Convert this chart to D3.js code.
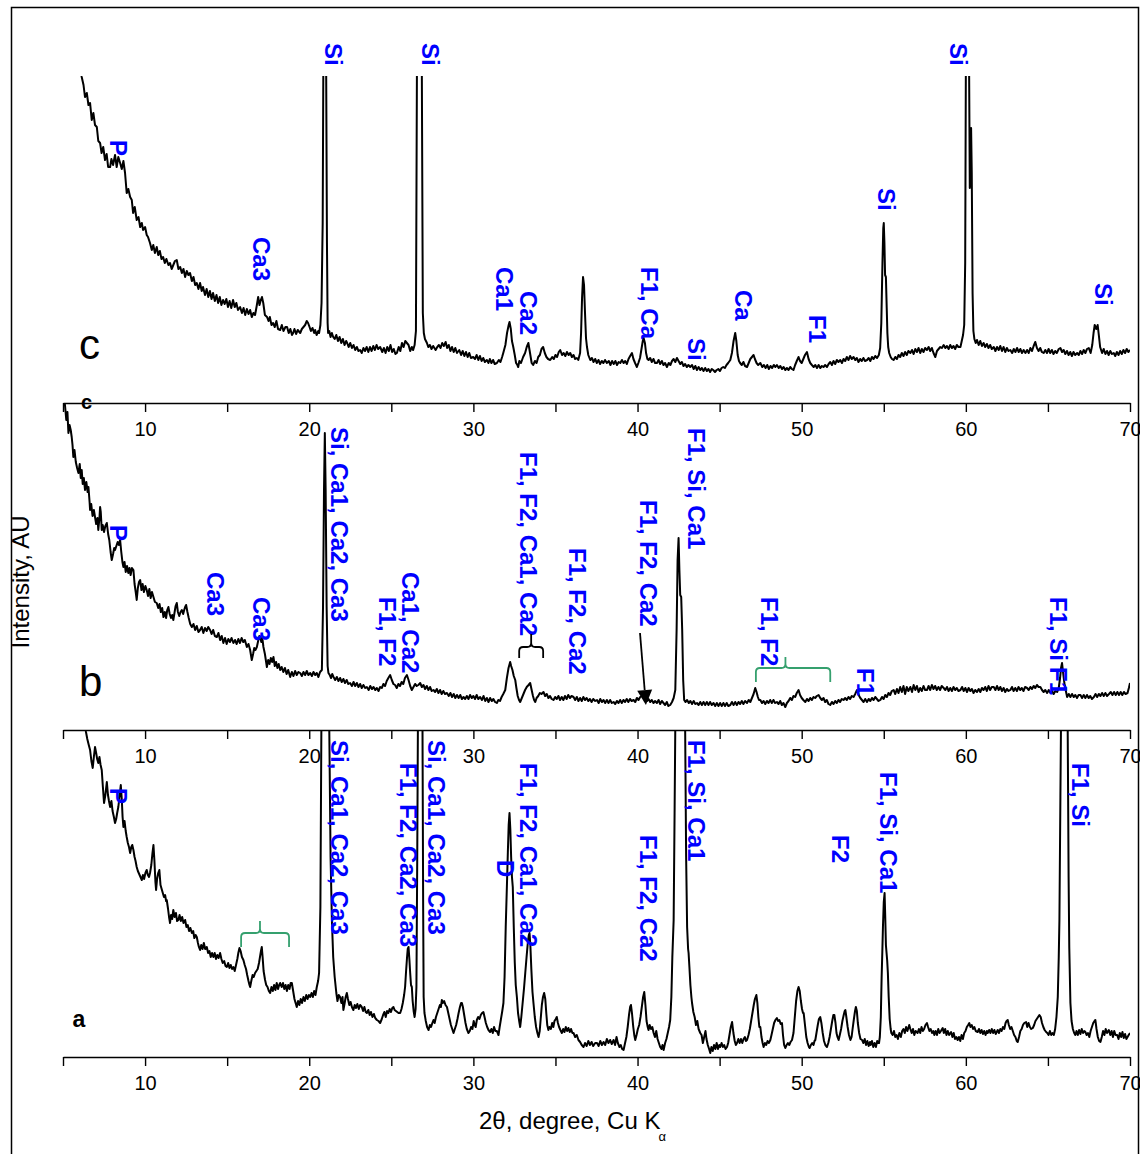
<!DOCTYPE html>
<html>
<head>
<meta charset="utf-8">
<script src="https://cdn.jsdelivr.net/npm/d3@7"></script>
<style>
  body { margin: 0; background: #fff; }
  svg { display: block; }
  text { font-family: "Liberation Sans", Arial, sans-serif; }
</style>
</head>
<body>
<svg id="chart" width="1140" height="1154"></svg>
<script>
// ---- x axis ticks (2-theta, degrees) ----
const tickValues = [5, 10, 15, 20, 25, 30, 35, 40, 45, 50, 55, 60, 65, 70];

// ---- diffraction patterns: [2theta, intensity (AU)] ----
const patternC = [
[5.0,420],[5.5,380],[5.9,345],[6.1,330],[6.14,326],[6.25,318],[6.34,306],[6.45,310],[6.55,298],[6.65,300],[6.75,283],[6.85,290],[6.95,278],[7.06,276],[7.15,262],[7.26,260],[7.35,250],[7.45,256],[7.56,243],[7.66,249],[7.75,236],[7.87,236],[7.95,244],[8.05,238],[8.17,248],[8.27,236],[8.37,246],[8.48,240],[8.58,234],[8.68,242],[8.78,230],[8.88,210],[8.98,214],[9.09,206],[9.19,203],[9.27,190],[9.37,196],[9.49,183],[9.6,186],[9.7,176],[9.8,180],[9.88,173],[10.0,176],[10.1,168],[10.18,166],[10.3,160],[10.41,153],[10.5,158],[10.6,150],[10.71,156],[10.8,148],[10.9,152],[11.0,144],[11.1,146],[11.2,140],[11.3,144],[11.42,138],[11.52,140],[11.62,134],[11.72,138],[11.82,142],[11.93,143],[12.03,134],[12.14,136],[12.24,130],[12.34,134],[12.44,126],[12.54,132],[12.64,128],[12.74,130],[12.85,122],[12.95,126],[13.05,118],[13.15,120],[13.25,114],[13.35,120],[13.45,112],[13.53,116],[13.65,108],[13.75,114],[13.85,106],[13.95,112],[14.05,104],[14.14,110],[14.25,102],[14.35,108],[14.45,100],[14.55,106],[14.65,98],[14.75,103],[14.85,99],[14.95,104],[15.05,96],[15.15,102],[15.25,95],[15.36,103],[15.46,96],[15.56,100],[15.66,93],[15.79,96],[15.9,90],[16.0,95],[16.1,88],[16.2,94],[16.3,89],[16.4,93],[16.5,86],[16.6,90],[16.7,88],[16.8,97],[16.89,106],[16.97,98],[17.05,103],[17.12,106],[17.2,100],[17.3,88],[17.43,86],[17.52,82],[17.6,86],[17.7,78],[17.8,80],[17.9,76],[18.0,82],[18.1,74],[18.23,73],[18.33,78],[18.43,72],[18.55,76],[18.65,76],[18.75,70],[18.85,74],[18.95,68],[19.02,70],[19.1,74],[19.2,69],[19.3,73],[19.45,70],[19.55,74],[19.65,76],[19.75,78],[19.85,82],[19.93,80],[20.02,76],[20.1,72],[20.2,75],[20.3,70],[20.36,73],[20.45,68],[20.55,72],[20.6,70],[20.68,78],[20.75,100],[20.82,180],[20.86,340],[20.9,700],[20.98,700],[21.03,340],[21.08,160],[21.12,80],[21.15,70],[21.22,72],[21.3,66],[21.38,70],[21.46,66],[21.55,64],[21.65,68],[21.75,62],[21.85,66],[21.95,60],[22.05,64],[22.15,58],[22.25,62],[22.31,60],[22.4,56],[22.5,60],[22.6,55],[22.7,58],[22.8,53],[22.9,56],[23.0,52],[23.1,53],[23.2,50],[23.3,55],[23.4,52],[23.5,56],[23.6,51],[23.7,56],[23.8,52],[23.9,57],[24.0,53],[24.1,58],[24.2,54],[24.32,56],[24.45,51],[24.55,55],[24.65,50],[24.75,56],[24.85,52],[24.95,58],[25.05,51],[25.15,54],[25.25,49],[25.34,50],[25.45,56],[25.55,52],[25.65,60],[25.75,56],[25.85,62],[25.95,60],[26.05,58],[26.15,52],[26.25,56],[26.33,53],[26.42,58],[26.5,72],[26.56,330],[26.62,900],[26.7,1000],[26.8,900],[26.86,330],[26.92,90],[26.98,70],[27.05,64],[27.17,60],[27.25,56],[27.35,58],[27.45,54],[27.55,57],[27.7,53],[27.8,56],[27.9,58],[28.0,55],[28.1,60],[28.2,57],[28.31,61],[28.4,55],[28.5,58],[28.6,52],[28.7,56],[28.8,51],[28.9,55],[29.0,50],[29.14,53],[29.25,48],[29.35,52],[29.45,47],[29.55,51],[29.65,46],[29.75,50],[29.85,45],[29.99,46],[30.1,44],[30.2,48],[30.3,43],[30.4,47],[30.5,42],[30.6,45],[30.7,41],[30.82,43],[30.92,40],[31.0,44],[31.1,40],[31.2,43],[31.3,39],[31.43,40],[31.55,43],[31.65,41],[31.75,46],[31.82,50],[31.95,58],[32.05,70],[32.15,78],[32.2,81],[32.28,74],[32.35,62],[32.43,56],[32.52,48],[32.6,40],[32.68,38],[32.73,36],[32.8,42],[32.9,40],[33.03,46],[33.15,50],[33.25,56],[33.35,60],[33.45,50],[33.55,40],[33.64,38],[33.75,42],[33.85,40],[33.95,46],[34.05,48],[34.15,54],[34.25,56],[34.35,50],[34.45,46],[34.55,44],[34.68,43],[34.8,46],[34.9,44],[35.0,48],[35.1,46],[35.2,51],[35.29,53],[35.4,48],[35.5,50],[35.6,47],[35.7,51],[35.8,48],[35.9,50],[36.0,46],[36.1,48],[36.2,44],[36.3,45],[36.39,43],[36.5,50],[36.56,70],[36.62,105],[36.68,126],[36.74,118],[36.8,90],[36.86,65],[36.92,56],[37.0,48],[37.12,43],[37.22,45],[37.32,41],[37.42,44],[37.52,40],[37.62,43],[37.72,39],[37.82,42],[37.92,40],[38.02,43],[38.13,40],[38.25,42],[38.35,38],[38.45,42],[38.55,39],[38.65,42],[38.75,38],[38.85,41],[38.95,40],[39.05,43],[39.15,40],[39.25,42],[39.35,39],[39.45,44],[39.55,47],[39.66,50],[39.75,44],[39.85,40],[39.96,36],[40.05,40],[40.15,45],[40.25,55],[40.32,62],[40.37,65],[40.45,60],[40.52,50],[40.6,44],[40.67,43],[40.77,45],[40.87,41],[40.97,44],[41.07,40],[41.18,40],[41.28,43],[41.38,39],[41.48,42],[41.58,38],[41.68,40],[41.79,36],[41.9,40],[42.0,38],[42.1,42],[42.2,44],[42.3,41],[42.4,45],[42.5,42],[42.6,39],[42.7,41],[42.8,37],[42.9,39],[43.0,36],[43.1,38],[43.21,36],[43.32,38],[43.42,34],[43.52,37],[43.62,33],[43.72,36],[43.82,33],[43.92,35],[44.02,32],[44.12,35],[44.22,32],[44.32,34],[44.42,31],[44.52,34],[44.61,33],[44.72,31],[44.82,33],[44.92,34],[45.02,32],[45.12,35],[45.22,36],[45.32,35],[45.42,38],[45.52,40],[45.65,43],[45.75,50],[45.85,62],[45.95,70],[46.02,62],[46.1,48],[46.18,42],[46.25,40],[46.35,38],[46.45,41],[46.55,37],[46.67,36],[46.77,40],[46.87,44],[46.97,46],[47.07,48],[47.15,44],[47.25,40],[47.35,38],[47.48,40],[47.6,36],[47.7,38],[47.8,35],[47.9,38],[48.0,34],[48.1,37],[48.2,35],[48.3,38],[48.4,36],[48.49,38],[48.6,35],[48.7,37],[48.8,34],[48.9,36],[49.0,33],[49.1,35],[49.2,33],[49.3,36],[49.4,34],[49.5,33],[49.6,38],[49.7,42],[49.81,46],[49.9,42],[50.0,40],[50.1,44],[50.2,48],[50.32,51],[50.42,44],[50.52,40],[50.62,38],[50.73,36],[50.83,38],[50.93,35],[51.03,38],[51.13,35],[51.23,37],[51.33,36],[51.43,38],[51.54,36],[51.64,39],[51.74,41],[51.84,38],[51.94,42],[52.04,39],[52.14,43],[52.24,41],[52.35,43],[52.45,40],[52.55,44],[52.65,42],[52.75,46],[52.85,43],[52.95,47],[53.05,44],[53.16,46],[53.26,43],[53.36,45],[53.46,41],[53.56,44],[53.66,42],[53.76,45],[53.86,42],[53.98,43],[54.08,45],[54.18,42],[54.28,46],[54.38,44],[54.48,47],[54.59,45],[54.7,48],[54.78,55],[54.85,80],[54.92,140],[54.97,175],[55.0,180],[55.04,160],[55.08,128],[55.13,126],[55.18,95],[55.22,70],[55.27,56],[55.33,50],[55.42,46],[55.5,44],[55.6,43],[55.7,46],[55.8,44],[55.9,48],[56.0,46],[56.1,50],[56.2,47],[56.3,51],[56.4,48],[56.5,52],[56.62,50],[56.72,53],[56.82,49],[56.92,54],[57.02,51],[57.12,55],[57.22,50],[57.32,54],[57.42,51],[57.52,55],[57.63,53],[57.73,56],[57.83,52],[57.93,55],[58.03,50],[58.14,46],[58.24,52],[58.34,54],[58.44,56],[58.54,55],[58.65,58],[58.75,55],[58.85,57],[58.95,54],[59.05,58],[59.15,55],[59.25,57],[59.35,54],[59.45,58],[59.55,56],[59.67,56],[59.75,62],[59.83,68],[59.9,78],[59.96,140],[60.0,330],[60.05,520],[60.15,520],[60.2,330],[60.24,215],[60.28,240],[60.32,275],[60.36,230],[60.41,110],[60.46,72],[60.52,64],[60.6,60],[60.68,63],[60.78,58],[60.88,62],[60.98,57],[61.08,60],[61.18,56],[61.28,59],[61.38,55],[61.48,58],[61.58,54],[61.7,56],[61.8,52],[61.9,56],[62.0,53],[62.1,57],[62.2,52],[62.3,56],[62.4,51],[62.5,55],[62.6,52],[62.71,53],[62.82,50],[62.92,54],[63.02,51],[63.12,55],[63.22,51],[63.32,54],[63.42,50],[63.52,53],[63.63,50],[63.73,53],[63.83,50],[63.93,55],[64.03,52],[64.13,57],[64.23,61],[64.33,55],[64.43,52],[64.53,55],[64.63,51],[64.74,50],[64.84,53],[64.94,50],[65.04,54],[65.14,50],[65.24,53],[65.34,49],[65.44,52],[65.54,50],[65.66,54],[65.76,55],[65.86,51],[65.96,53],[66.06,49],[66.16,52],[66.26,48],[66.36,51],[66.46,47],[66.56,51],[66.66,48],[66.78,50],[66.88,48],[66.98,52],[67.08,49],[67.18,53],[67.28,50],[67.38,54],[67.49,55],[67.6,50],[67.7,58],[67.78,70],[67.85,78],[67.95,74],[68.03,78],[68.1,68],[68.18,56],[68.3,50],[68.4,54],[68.5,49],[68.6,52],[68.7,48],[68.8,52],[68.9,49],[69.01,50],[69.1,47],[69.2,51],[69.3,48],[69.4,52],[69.5,49],[69.6,53],[69.7,50],[69.8,54],[69.9,51],[70.0,53]
];

const patternB = [
[5.0,345],[5.06,330],[5.12,325],[5.2,310],[5.27,318],[5.33,297],[5.4,305],[5.47,300],[5.53,293],[5.58,285],[5.63,273],[5.7,280],[5.78,268],[5.86,262],[5.94,257],[6.02,266],[6.08,252],[6.14,260],[6.2,246],[6.27,252],[6.34,240],[6.42,248],[6.5,238],[6.55,243],[6.62,228],[6.65,220],[6.72,226],[6.8,214],[6.88,220],[6.95,213],[7.02,206],[7.1,212],[7.15,200],[7.22,212],[7.26,223],[7.3,218],[7.36,200],[7.42,205],[7.5,198],[7.58,204],[7.67,207],[7.75,196],[7.82,190],[7.9,178],[7.97,170],[8.05,176],[8.12,182],[8.17,180],[8.25,184],[8.33,188],[8.4,185],[8.48,190],[8.55,178],[8.62,168],[8.68,163],[8.75,168],[8.82,158],[8.9,164],[8.98,157],[9.05,162],[9.12,155],[9.2,162],[9.29,160],[9.36,146],[9.43,138],[9.49,130],[9.56,142],[9.63,148],[9.7,150],[9.78,140],[9.85,146],[9.93,138],[10.02,144],[10.1,140],[10.18,134],[10.26,141],[10.34,132],[10.42,138],[10.51,133],[10.6,128],[10.71,127],[10.8,122],[10.88,126],[10.96,118],[11.04,122],[11.12,113],[11.2,118],[11.28,112],[11.35,120],[11.42,123],[11.5,116],[11.58,112],[11.65,115],[11.72,110],[11.8,118],[11.86,124],[11.93,127],[12.0,118],[12.08,114],[12.16,118],[12.24,120],[12.32,116],[12.4,121],[12.44,123],[12.5,125],[12.58,118],[12.66,112],[12.75,106],[12.85,103],[12.95,106],[13.05,100],[13.15,104],[13.25,98],[13.35,100],[13.45,103],[13.55,97],[13.65,102],[13.75,99],[13.85,103],[13.96,100],[14.05,96],[14.15,100],[14.25,94],[14.37,93],[14.47,97],[14.57,90],[14.67,94],[14.77,87],[14.87,92],[14.97,86],[15.07,91],[15.17,88],[15.27,92],[15.38,87],[15.48,90],[15.58,86],[15.68,91],[15.78,87],[15.88,92],[15.98,88],[16.08,90],[16.2,83],[16.3,86],[16.4,80],[16.5,70],[16.58,76],[16.65,82],[16.72,80],[16.81,83],[16.9,90],[16.96,94],[17.01,93],[17.08,88],[17.14,92],[17.21,83],[17.3,76],[17.42,63],[17.5,70],[17.58,66],[17.66,72],[17.74,68],[17.82,73],[17.9,64],[17.98,68],[18.06,62],[18.14,66],[18.23,60],[18.32,63],[18.42,58],[18.52,62],[18.62,56],[18.72,60],[18.84,53],[18.94,58],[19.04,54],[19.14,59],[19.24,55],[19.34,58],[19.45,57],[19.55,54],[19.65,58],[19.75,55],[19.85,59],[19.95,55],[20.06,57],[20.16,54],[20.26,58],[20.36,55],[20.46,57],[20.56,53],[20.66,58],[20.77,60],[20.84,123],[20.9,240],[20.95,297],[21.0,240],[21.06,123],[21.12,64],[21.17,57],[21.25,55],[21.33,52],[21.4,56],[21.48,53],[21.58,50],[21.68,53],[21.78,49],[21.88,52],[21.98,48],[22.08,51],[22.18,47],[22.28,50],[22.38,46],[22.49,47],[22.6,44],[22.7,48],[22.8,44],[22.9,47],[23.0,43],[23.1,46],[23.2,42],[23.3,45],[23.41,42],[23.51,43],[23.62,40],[23.72,44],[23.82,41],[23.92,43],[24.02,40],[24.12,42],[24.22,39],[24.32,43],[24.42,42],[24.52,46],[24.62,44],[24.72,49],[24.82,52],[24.93,55],[25.03,50],[25.13,46],[25.23,45],[25.33,42],[25.43,46],[25.53,44],[25.63,48],[25.73,46],[25.83,52],[25.95,55],[26.05,50],[26.15,44],[26.25,40],[26.35,43],[26.45,46],[26.55,44],[26.65,45],[26.76,47],[26.86,43],[26.96,45],[27.06,41],[27.16,44],[27.26,40],[27.36,43],[27.46,39],[27.57,40],[27.67,38],[27.77,41],[27.87,37],[27.97,40],[28.07,36],[28.17,39],[28.27,36],[28.39,37],[28.5,34],[28.6,37],[28.7,33],[28.8,36],[28.9,32],[29.0,35],[29.1,32],[29.2,35],[29.3,31],[29.4,33],[29.5,31],[29.6,34],[29.7,31],[29.8,35],[29.9,32],[30.0,34],[30.1,31],[30.2,35],[30.3,31],[30.41,33],[30.52,30],[30.62,34],[30.72,29],[30.82,32],[30.92,28],[31.02,32],[31.12,29],[31.22,31],[31.32,28],[31.43,27],[31.52,30],[31.62,29],[31.72,33],[31.82,36],[31.94,40],[32.04,52],[32.14,62],[32.24,68],[32.3,64],[32.38,60],[32.46,54],[32.55,50],[32.62,42],[32.7,34],[32.78,30],[32.85,28],[32.95,32],[33.05,36],[33.15,40],[33.25,43],[33.36,45],[33.46,47],[33.55,40],[33.63,34],[33.7,30],[33.77,28],[33.85,32],[33.95,34],[34.05,37],[34.15,36],[34.27,38],[34.37,34],[34.47,36],[34.57,32],[34.67,34],[34.77,31],[34.88,30],[34.98,33],[35.08,31],[35.18,34],[35.28,30],[35.38,33],[35.48,30],[35.58,34],[35.68,31],[35.78,35],[35.88,32],[35.98,34],[36.1,33],[36.2,30],[36.3,33],[36.4,29],[36.5,32],[36.6,29],[36.7,33],[36.8,30],[36.9,32],[37.0,29],[37.1,31],[37.2,28],[37.3,31],[37.42,29],[37.53,30],[37.63,27],[37.73,31],[37.83,28],[37.93,30],[38.03,27],[38.13,30],[38.23,27],[38.33,30],[38.43,27],[38.54,28],[38.64,26],[38.74,29],[38.84,27],[38.94,30],[39.04,27],[39.14,30],[39.24,28],[39.34,31],[39.44,28],[39.54,31],[39.64,29],[39.76,30],[39.86,28],[39.96,32],[40.06,30],[40.16,33],[40.26,34],[40.37,35],[40.47,32],[40.57,29],[40.67,31],[40.77,28],[40.87,30],[40.97,27],[41.07,29],[41.18,27],[41.28,30],[41.38,26],[41.48,29],[41.58,27],[41.68,25],[41.78,28],[41.88,24],[41.99,25],[42.1,28],[42.2,32],[42.3,40],[42.38,100],[42.44,170],[42.5,192],[42.55,160],[42.6,135],[42.66,133],[42.72,100],[42.78,50],[42.84,30],[42.92,28],[43.02,30],[43.12,27],[43.22,29],[43.32,26],[43.42,29],[43.52,26],[43.62,27],[43.72,25],[43.82,28],[43.92,25],[44.02,28],[44.12,25],[44.22,28],[44.32,25],[44.42,28],[44.52,25],[44.63,27],[44.73,24],[44.83,27],[44.93,24],[45.03,27],[45.13,24],[45.23,27],[45.33,24],[45.43,27],[45.53,24],[45.65,25],[45.75,28],[45.85,25],[45.95,28],[46.05,25],[46.15,28],[46.25,26],[46.35,29],[46.45,26],[46.55,29],[46.67,27],[46.77,30],[46.87,28],[46.97,32],[47.07,36],[47.17,42],[47.25,38],[47.33,33],[47.4,30],[47.48,30],[47.58,27],[47.68,29],[47.78,26],[47.88,29],[47.98,27],[48.08,30],[48.18,27],[48.28,30],[48.38,27],[48.49,28],[48.59,26],[48.69,29],[48.79,25],[48.89,27],[49.0,23],[49.1,27],[49.2,29],[49.3,32],[49.4,30],[49.5,34],[49.6,33],[49.7,37],[49.81,40],[49.9,35],[50.0,32],[50.1,30],[50.22,28],[50.32,31],[50.42,29],[50.52,32],[50.62,30],[50.72,33],[50.82,32],[50.92,34],[51.03,35],[51.13,32],[51.23,30],[51.33,32],[51.43,28],[51.53,30],[51.63,26],[51.74,25],[51.84,28],[51.94,26],[52.04,29],[52.14,27],[52.24,30],[52.34,28],[52.44,31],[52.55,30],[52.65,32],[52.75,30],[52.85,33],[52.95,31],[53.05,34],[53.16,33],[53.26,36],[53.37,40],[53.47,35],[53.57,32],[53.67,30],[53.77,28],[53.87,31],[53.98,28],[54.08,31],[54.18,29],[54.28,32],[54.38,30],[54.48,33],[54.58,31],[54.68,29],[54.79,30],[54.89,33],[54.99,31],[55.09,35],[55.19,33],[55.29,37],[55.39,35],[55.49,39],[55.6,40],[55.7,36],[55.8,41],[55.9,37],[56.0,43],[56.1,38],[56.2,44],[56.3,36],[56.4,43],[56.5,39],[56.62,43],[56.72,38],[56.82,45],[56.92,40],[57.02,44],[57.12,38],[57.22,42],[57.32,39],[57.42,44],[57.52,40],[57.63,40],[57.73,44],[57.83,40],[57.93,45],[58.03,41],[58.13,44],[58.23,40],[58.33,43],[58.43,40],[58.53,44],[58.65,42],[58.75,40],[58.85,43],[58.95,39],[59.05,42],[59.15,39],[59.25,43],[59.35,40],[59.45,42],[59.55,39],[59.67,40],[59.77,43],[59.87,39],[59.97,42],[60.07,38],[60.17,42],[60.27,39],[60.37,41],[60.47,37],[60.57,40],[60.68,38],[60.78,41],[60.88,38],[60.98,42],[61.08,40],[61.18,43],[61.28,39],[61.38,44],[61.48,40],[61.58,43],[61.7,43],[61.8,40],[61.9,44],[62.0,40],[62.1,43],[62.2,39],[62.3,42],[62.4,38],[62.5,41],[62.6,39],[62.71,40],[62.81,43],[62.91,39],[63.01,42],[63.11,39],[63.21,43],[63.31,40],[63.41,42],[63.51,39],[63.61,43],[63.73,42],[63.83,40],[63.93,43],[64.03,41],[64.13,44],[64.23,42],[64.33,45],[64.43,43],[64.54,43],[64.64,40],[64.74,38],[64.84,40],[64.95,37],[65.05,40],[65.15,37],[65.25,39],[65.35,36],[65.45,39],[65.56,38],[65.66,42],[65.74,52],[65.8,62],[65.86,67],[65.92,58],[66.0,47],[66.08,40],[66.17,33],[66.27,36],[66.37,33],[66.47,36],[66.57,33],[66.67,35],[66.77,32],[66.87,35],[66.98,35],[67.08,32],[67.18,35],[67.28,32],[67.38,35],[67.48,32],[67.58,34],[67.68,31],[67.8,33],[67.9,36],[68.0,33],[68.1,36],[68.2,34],[68.3,37],[68.4,34],[68.5,37],[68.6,34],[68.72,36],[68.83,38],[68.93,35],[69.03,38],[69.13,35],[69.23,38],[69.33,35],[69.43,38],[69.53,35],[69.63,38],[69.73,36],[69.85,37],[69.93,42],[70.0,47]
];

const patternA = [
[6.0,380],[6.2,350],[6.32,335],[6.4,325],[6.48,318],[6.57,312],[6.65,307],[6.73,296],[6.81,289],[6.88,300],[6.95,310],[7.02,304],[7.08,298],[7.15,294],[7.22,300],[7.29,292],[7.36,287],[7.43,270],[7.5,254],[7.58,262],[7.67,275],[7.74,262],[7.8,256],[7.87,250],[7.95,256],[8.02,246],[8.1,240],[8.17,234],[8.24,238],[8.3,244],[8.37,250],[8.44,260],[8.52,272],[8.58,258],[8.63,240],[8.68,230],[8.75,236],[8.82,226],[8.88,220],[8.95,214],[9.02,210],[9.09,204],[9.16,210],[9.22,212],[9.29,207],[9.36,200],[9.42,196],[9.49,190],[9.56,186],[9.64,183],[9.72,180],[9.8,177],[9.87,182],[9.94,178],[10.02,184],[10.1,187],[10.17,182],[10.24,180],[10.3,184],[10.38,192],[10.45,204],[10.51,212],[10.57,196],[10.63,175],[10.67,167],[10.73,178],[10.8,184],[10.87,187],[10.94,172],[11.01,168],[11.08,164],[11.15,160],[11.22,162],[11.28,156],[11.32,157],[11.4,148],[11.46,140],[11.52,134],[11.58,142],[11.65,138],[11.72,147],[11.8,140],[11.88,144],[11.95,136],[12.03,137],[12.1,142],[12.18,136],[12.26,140],[12.34,134],[12.44,137],[12.52,130],[12.6,132],[12.68,126],[12.76,129],[12.85,124],[12.93,126],[13.0,119],[13.08,122],[13.15,120],[13.22,114],[13.28,110],[13.35,107],[13.42,112],[13.5,108],[13.58,114],[13.66,108],[13.76,110],[13.84,104],[13.92,106],[14.0,100],[14.08,104],[14.16,100],[14.24,104],[14.32,98],[14.4,102],[14.48,99],[14.57,104],[14.65,98],[14.73,94],[14.82,96],[14.9,91],[14.98,90],[15.06,94],[15.14,89],[15.22,92],[15.3,88],[15.38,90],[15.46,86],[15.54,92],[15.62,98],[15.68,104],[15.75,109],[15.82,106],[15.9,100],[15.99,97],[16.07,92],[16.15,88],[16.22,82],[16.3,76],[16.36,72],[16.4,70],[16.47,76],[16.55,82],[16.62,80],[16.7,84],[16.78,86],[16.86,88],[16.94,94],[17.0,100],[17.06,106],[17.11,110],[17.16,100],[17.22,86],[17.31,77],[17.38,72],[17.46,70],[17.54,66],[17.62,64],[17.7,70],[17.78,66],[17.86,72],[17.94,67],[18.02,74],[18.1,68],[18.17,72],[18.23,74],[18.32,70],[18.4,74],[18.48,68],[18.56,72],[18.64,66],[18.72,72],[18.8,68],[18.87,74],[18.94,74],[19.02,66],[19.1,58],[19.17,54],[19.24,50],[19.32,56],[19.4,52],[19.48,58],[19.56,54],[19.65,60],[19.73,56],[19.82,62],[19.9,58],[19.98,62],[20.06,60],[20.14,64],[20.22,60],[20.3,66],[20.38,62],[20.46,70],[20.54,76],[20.6,84],[20.68,150],[20.74,330],[20.85,600],[21.1,600],[21.22,330],[21.3,200],[21.38,137],[21.46,100],[21.55,80],[21.65,64],[21.72,56],[21.8,62],[21.88,60],[21.96,54],[22.03,60],[22.08,47],[22.16,54],[22.22,60],[22.29,64],[22.36,58],[22.44,52],[22.52,55],[22.6,50],[22.69,47],[22.77,52],[22.85,49],[22.93,53],[23.02,48],[23.1,52],[23.2,50],[23.28,46],[23.36,50],[23.44,45],[23.51,44],[23.6,47],[23.68,42],[23.76,45],[23.85,40],[23.94,43],[24.02,39],[24.12,37],[24.22,36],[24.32,34],[24.42,38],[24.5,42],[24.58,45],[24.66,40],[24.74,46],[24.82,44],[24.9,48],[24.98,45],[25.06,49],[25.13,50],[25.2,47],[25.28,46],[25.36,45],[25.44,44],[25.54,44],[25.62,48],[25.7,54],[25.78,62],[25.84,70],[25.9,86],[25.96,100],[26.0,108],[26.05,110],[26.1,98],[26.15,84],[26.2,72],[26.25,70],[26.3,56],[26.36,46],[26.42,40],[26.48,48],[26.53,70],[26.58,200],[26.62,330],[26.7,700],[26.84,700],[26.9,330],[26.94,150],[26.97,60],[27.02,44],[27.1,36],[27.18,30],[27.27,27],[27.35,32],[27.42,30],[27.5,34],[27.57,37],[27.64,34],[27.72,40],[27.8,44],[27.88,48],[27.96,52],[28.02,50],[28.08,57],[28.14,54],[28.22,56],[28.3,52],[28.39,50],[28.47,44],[28.55,38],[28.63,32],[28.71,28],[28.79,24],[28.87,28],[28.95,32],[29.03,38],[29.1,44],[29.18,50],[29.25,54],[29.3,54],[29.36,50],[29.44,42],[29.52,34],[29.6,28],[29.7,24],[29.78,26],[29.86,30],[29.94,28],[30.02,36],[30.08,32],[30.14,30],[30.21,37],[30.29,40],[30.37,38],[30.45,42],[30.53,44],[30.61,45],[30.68,40],[30.76,34],[30.84,30],[30.92,27],[31.02,25],[31.1,28],[31.18,24],[31.26,30],[31.34,26],[31.43,26],[31.53,22],[31.6,30],[31.68,38],[31.76,46],[31.83,54],[31.9,80],[31.97,130],[32.04,170],[32.1,205],[32.15,232],[32.2,244],[32.25,228],[32.3,200],[32.35,180],[32.4,170],[32.46,130],[32.52,95],[32.58,72],[32.65,60],[32.72,44],[32.79,36],[32.85,30],[32.92,40],[33.0,54],[33.08,68],[33.16,84],[33.24,100],[33.32,115],[33.38,122],[33.42,124],[33.47,112],[33.53,88],[33.6,65],[33.66,54],[33.74,40],[33.82,30],[33.9,24],[33.97,20],[34.04,26],[34.1,38],[34.17,52],[34.24,60],[34.31,64],[34.38,58],[34.44,44],[34.5,32],[34.57,27],[34.64,30],[34.72,28],[34.8,34],[34.87,30],[34.94,36],[35.02,38],[35.08,40],[35.15,34],[35.22,30],[35.3,27],[35.39,24],[35.47,28],[35.55,25],[35.63,30],[35.71,26],[35.79,29],[35.87,25],[35.95,28],[36.03,24],[36.1,24],[36.2,20],[36.3,22],[36.4,17],[36.5,15],[36.6,12],[36.71,10],[36.8,14],[36.9,11],[37.0,16],[37.1,12],[37.2,15],[37.3,11],[37.42,14],[37.53,14],[37.63,11],[37.73,16],[37.83,12],[37.93,15],[38.03,12],[38.13,18],[38.23,14],[38.33,17],[38.43,13],[38.54,17],[38.63,12],[38.72,20],[38.8,14],[38.9,10],[38.98,12],[39.06,8],[39.15,7],[39.24,14],[39.32,20],[39.4,30],[39.48,42],[39.55,50],[39.6,52],[39.66,44],[39.74,30],[39.8,22],[39.86,17],[39.94,22],[40.02,28],[40.1,32],[40.18,40],[40.26,50],[40.34,60],[40.41,65],[40.48,52],[40.55,36],[40.62,30],[40.67,27],[40.74,32],[40.82,28],[40.9,30],[40.98,24],[41.06,20],[41.14,26],[41.22,18],[41.3,14],[41.38,10],[41.46,8],[41.52,12],[41.59,7],[41.68,14],[41.76,18],[41.84,24],[41.92,30],[41.99,37],[42.06,60],[42.12,100],[42.2,137],[42.26,250],[42.3,330],[42.4,600],[42.8,600],[42.9,330],[42.96,200],[43.02,130],[43.08,108],[43.11,104],[43.16,90],[43.22,72],[43.28,60],[43.32,54],[43.4,45],[43.48,40],[43.56,32],[43.64,36],[43.72,28],[43.82,24],[43.9,22],[43.98,14],[44.06,20],[44.14,26],[44.2,18],[44.28,12],[44.36,8],[44.43,4],[44.5,10],[44.58,6],[44.66,12],[44.74,8],[44.82,14],[44.9,8],[44.98,12],[45.04,10],[45.12,14],[45.2,10],[45.28,12],[45.36,8],[45.45,10],[45.52,14],[45.6,22],[45.68,30],[45.76,35],[45.84,24],[45.92,16],[45.99,12],[46.06,14],[46.14,18],[46.22,14],[46.3,18],[46.38,14],[46.46,18],[46.54,20],[46.6,16],[46.67,17],[46.76,22],[46.84,28],[46.92,36],[47.0,44],[47.08,52],[47.15,58],[47.24,62],[47.3,54],[47.36,40],[47.42,30],[47.48,30],[47.55,20],[47.62,14],[47.68,10],[47.76,14],[47.84,12],[47.92,16],[48.0,14],[48.09,17],[48.16,22],[48.24,28],[48.32,34],[48.4,37],[48.49,39],[48.56,36],[48.64,37],[48.72,33],[48.8,34],[48.86,22],[48.93,12],[49.0,9],[49.08,12],[49.16,14],[49.24,12],[49.32,15],[49.41,17],[49.5,24],[49.58,40],[49.66,56],[49.74,66],[49.81,70],[49.88,66],[49.95,56],[50.02,48],[50.08,44],[50.12,44],[50.2,32],[50.28,20],[50.36,14],[50.44,10],[50.49,9],[50.56,12],[50.64,14],[50.72,12],[50.78,16],[50.83,17],[50.9,24],[50.98,32],[51.05,38],[51.13,40],[51.2,34],[51.28,24],[51.36,16],[51.44,12],[51.54,10],[51.62,14],[51.7,20],[51.78,28],[51.86,36],[51.93,42],[51.99,42],[52.06,34],[52.12,24],[52.18,20],[52.25,17],[52.32,22],[52.4,28],[52.48,36],[52.56,42],[52.62,46],[52.66,47],[52.72,40],[52.8,30],[52.88,22],[52.97,17],[53.04,20],[53.1,28],[53.18,38],[53.25,46],[53.3,50],[53.36,46],[53.42,34],[53.5,24],[53.58,18],[53.68,17],[53.76,14],[53.84,18],[53.92,12],[54.0,16],[54.08,11],[54.16,15],[54.2,12],[54.28,16],[54.36,10],[54.44,14],[54.52,10],[54.6,16],[54.66,14],[54.71,14],[54.76,20],[54.82,40],[54.87,80],[54.91,104],[54.95,130],[55.0,155],[55.05,164],[55.09,140],[55.13,112],[55.17,104],[55.21,96],[55.25,84],[55.3,60],[55.36,38],[55.42,28],[55.46,24],[55.54,22],[55.62,26],[55.7,20],[55.78,22],[55.86,18],[55.95,24],[56.04,20],[56.12,26],[56.2,28],[56.28,24],[56.36,30],[56.44,26],[56.55,32],[56.62,28],[56.7,24],[56.78,28],[56.86,22],[56.94,26],[57.06,24],[57.14,28],[57.22,24],[57.3,30],[57.38,26],[57.46,28],[57.54,32],[57.63,34],[57.7,30],[57.78,26],[57.86,28],[57.94,24],[58.02,26],[58.08,22],[58.16,26],[58.24,22],[58.32,28],[58.4,24],[58.48,26],[58.59,29],[58.66,24],[58.74,28],[58.82,22],[58.9,26],[58.98,22],[59.1,25],[59.18,20],[59.26,24],[59.34,18],[59.42,20],[59.5,17],[59.58,20],[59.66,16],[59.74,22],[59.82,18],[59.9,24],[59.98,26],[60.06,30],[60.14,32],[60.21,34],[60.28,30],[60.36,32],[60.44,28],[60.52,30],[60.6,26],[60.72,25],[60.8,28],[60.88,24],[60.96,27],[61.04,23],[61.12,26],[61.2,22],[61.28,26],[61.33,24],[61.42,27],[61.5,24],[61.58,28],[61.66,24],[61.74,27],[61.82,23],[61.94,27],[62.02,24],[62.1,28],[62.18,26],[62.26,30],[62.34,28],[62.42,34],[62.48,36],[62.55,37],[62.62,32],[62.7,28],[62.78,30],[62.86,26],[62.94,22],[63.02,20],[63.1,16],[63.16,15],[63.24,20],[63.32,26],[63.4,28],[63.48,32],[63.56,34],[63.67,35],[63.74,30],[63.82,34],[63.9,30],[63.98,28],[64.08,29],[64.16,32],[64.24,36],[64.32,38],[64.4,40],[64.48,42],[64.56,40],[64.64,34],[64.72,30],[64.8,27],[64.89,25],[64.96,24],[65.04,22],[65.12,26],[65.2,22],[65.28,24],[65.36,22],[65.44,28],[65.52,40],[65.6,60],[65.66,100],[65.7,137],[65.76,260],[65.8,340],[65.9,600],[66.1,600],[66.2,340],[66.26,180],[66.3,110],[66.37,54],[66.44,36],[66.52,28],[66.6,24],[66.67,22],[66.74,26],[66.82,22],[66.9,27],[66.98,23],[67.06,28],[67.14,24],[67.22,26],[67.28,25],[67.36,22],[67.44,24],[67.52,20],[67.6,26],[67.68,30],[67.76,34],[67.84,36],[67.89,37],[67.96,28],[68.04,20],[68.12,16],[68.2,15],[68.28,20],[68.36,26],[68.44,22],[68.52,28],[68.6,24],[68.71,27],[68.8,22],[68.88,26],[68.96,20],[69.04,26],[69.12,22],[69.22,22],[69.3,18],[69.38,24],[69.46,20],[69.54,25],[69.62,19],[69.7,23],[69.78,18],[69.85,20],[69.92,22],[70.0,24]
];

// ---- phase labels: [text, 2theta, intensity at start of label] ----
const labelsC = [
  ["P", 7.87, 263], ["Ca3", 16.58, 166], ["Si", 20.97, 360], ["Si", 26.88, 360],
  ["Ca1", 31.39, 136], ["Ca2", 32.85, 112], ["F1, Ca", 40.23, 136], ["Si", 43.09, 65],
  ["Ca", 45.95, 113], ["F1", 50.46, 88], ["Si", 54.67, 215], ["Si", 59.06, 360], ["Si", 67.89, 120]
];
const labelsB = [
  ["P", 7.87, 205], ["Ca3", 13.78, 158], ["Ca3", 16.58, 133], ["Si, Ca1, Ca2, Ca3", 21.33, 303],
  ["F1, F2", 24.26, 133], ["Ca1, Ca2", 25.66, 158], ["F1, F2, Ca1, Ca2", 32.85, 278],
  ["F1, F2, Ca2", 35.84, 182], ["F1, F2, Ca2", 40.16, 230], ["F1, Si, Ca1", 43.09, 302],
  ["F1, F2", 47.54, 133], ["F1", 53.39, 62], ["F1, Si", 65.15, 133], ["F1", 65.15, 63]
];
const labelsA = [
  ["P", 7.87, 269], ["Si, Ca1, Ca2, Ca3", 21.33, 317], ["F1, F2, Ca2, Ca3", 25.54, 294],
  ["Si, Ca1, Ca2, Ca3", 27.25, 317], ["D", 31.45, 197], ["F1, F2, Ca1, Ca2", 32.85, 294],
  ["F1, F2, Ca2", 40.16, 222], ["F1, Si, Ca1", 43.09, 317], ["F2", 51.87, 222],
  ["F1, Si, Ca1", 54.79, 285], ["F1, Si", 66.49, 294]
];

// ---- brace annotations: [theta start, theta nub, theta end, bar level, end level, nub level, colour] ----
const bracesB = [[32.79, 33.52, 34.25, 83, 72, 96, "black"], [47.21, 49.01, 51.74, 62, 48, 73, "green"]];
const bracesA = [[15.85, 17.0, 18.77, 124, 110, 136, "green"]];
// arrow in pattern b: [theta from, intensity from, theta to, intensity to]
const arrowB = [40.15, 97, 40.51, 25];

// ---- layout ----
const plotLeft = 63, plotRight = 1130;
const panelH = 327;
const panels = [
  { name: "c", top: 76,  data: patternC, labels: labelsC, braces: [] },
  { name: "b", top: 403, data: patternB, labels: labelsB, braces: bracesB },
  { name: "a", top: 730, data: patternA, labels: labelsA, braces: bracesA }
];
const BLUE = "#0000ff";
const GREEN = "#35a06e";

const svg = d3.select("#chart");

// outer frame
svg.append("rect")
  .attr("x", 11.5).attr("y", 7.5)
  .attr("width", 1127).attr("height", 1170)
  .attr("fill", "none").attr("stroke", "#000").attr("stroke-width", 1.5);

const x = d3.scaleLinear().domain([5, 70]).range([plotLeft, plotRight]);

const braceColor = c => (c === "green" ? GREEN : "#000");

panels.forEach(p => {
  const bottom = p.top + panelH;
  const y = d3.scaleLinear().domain([0, panelH]).range([bottom, p.top]);

  const clipId = "clip-" + p.name;
  svg.append("clipPath").attr("id", clipId)
    .append("rect")
    .attr("x", plotLeft).attr("y", p.top)
    .attr("width", plotRight - plotLeft).attr("height", panelH);

  const line = d3.line().x(d => x(d[0])).y(d => y(d[1]));

  svg.append("path")
    .datum(p.data)
    .attr("clip-path", `url(#${clipId})`)
    .attr("d", line)
    .attr("fill", "none")
    .attr("stroke", "#000")
    .attr("stroke-width", 2)
    .attr("stroke-linejoin", "round");

  // x axis under each pattern
  const axis = d3.axisBottom(x)
    .tickValues(tickValues)
    .tickSize(9)
    .tickSizeOuter(0)
    .tickPadding(10)
    .tickFormat(d => (d % 10 === 0 ? d : ""));
  const ga = svg.append("g")
    .attr("transform", `translate(0,${bottom})`)
    .call(axis);
  ga.select(".domain").attr("stroke", "#000").attr("stroke-width", 1.6);
  ga.selectAll(".tick line").attr("stroke", "#000").attr("stroke-width", 1.4);
  ga.selectAll(".tick text")
    .attr("font-family", "'Liberation Sans', Arial, sans-serif")
    .attr("font-size", 20).attr("fill", "#000");

  // phase labels (rotated, reading downward)
  svg.append("g").selectAll("text")
    .data(p.labels).join("text")
    .attr("transform", d => `translate(${x(d[1])},${y(d[2])}) rotate(90)`)
    .attr("font-size", 24).attr("font-weight", "bold")
    .attr("fill", BLUE)
    .text(d => d[0]);

  // braces
  p.braces.forEach(b => {
    const [t0, tn, t1, lv, le, ln, c] = b;
    const xa = x(t0), xn = x(tn), xb = x(t1);
    const yb = y(lv), ye = y(le), yn = y(ln);
    const r = 4;
    const path = `M${xa},${ye} L${xa},${yb + r} Q${xa},${yb} ${xa + r},${yb} L${xn - r},${yb} Q${xn},${yb} ${xn},${yb - r} L${xn},${yn}` +
                 ` M${xn},${yb - r} Q${xn},${yb} ${xn + r},${yb} L${xb - r},${yb} Q${xb},${yb} ${xb},${yb + r} L${xb},${ye}`;
    svg.append("path").attr("d", path)
      .attr("fill", "none").attr("stroke", braceColor(c)).attr("stroke-width", 1.8);
  });

  if (p.name === "b") {
    const [ta, ia, tb, ib] = arrowB;
    const x0 = x(ta), y0 = y(ia), x1 = x(tb), y1 = y(ib);
    const len = Math.hypot(x1 - x0, y1 - y0);
    const ux = (x1 - x0) / len, uy = (y1 - y0) / len;
    const hl = 15, hw = 7.5;
    const bx = x1 - ux * hl, by = y1 - uy * hl;
    svg.append("line")
      .attr("x1", x0).attr("y1", y0).attr("x2", bx).attr("y2", by)
      .attr("stroke", "#000").attr("stroke-width", 1.8);
    svg.append("path")
      .attr("d", `M${x1},${y1} L${bx - uy * hw},${by + ux * hw} L${bx + uy * hw},${by - ux * hw} Z`)
      .attr("fill", "#000");
  }
});

// panel letters
svg.append("text").attr("x", 79).attr("y", 358.5).attr("font-size", 42).attr("fill", "#000").text("c");
svg.append("text").attr("x", 79).attr("y", 695.5).attr("font-size", 42).attr("fill", "#000").text("b");
svg.append("text").attr("x", 81).attr("y", 408.5).attr("font-size", 20).attr("font-weight", "bold").attr("fill", "#000").text("c");
svg.append("text").attr("x", 72.5).attr("y", 1027).attr("font-size", 23).attr("font-weight", "bold").attr("fill", "#000").text("a");

// axis titles
svg.append("text")
  .attr("transform", "translate(29,582) rotate(-90)")
  .attr("text-anchor", "middle")
  .attr("font-size", 24).attr("fill", "#000")
  .text("Intensity, AU");

const xt = svg.append("text")
  .attr("x", 479).attr("y", 1129)
  .attr("font-size", 24).attr("fill", "#000");
xt.append("tspan").text("2\u03b8, degree, Cu K");
xt.append("tspan").attr("dx", -2).attr("dy", 12).attr("font-size", 13).text("\u03b1");
</script>
</body>
</html>
